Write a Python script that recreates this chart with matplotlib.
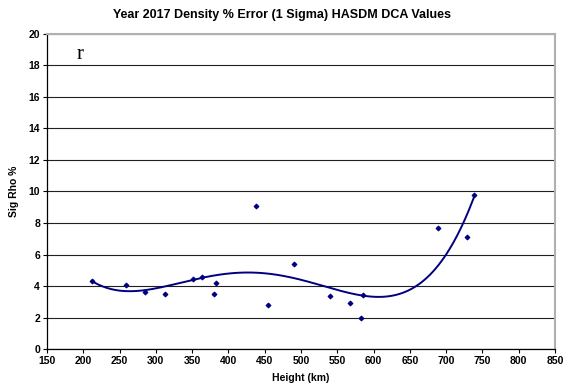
import numpy as np
import matplotlib
matplotlib.use("Agg")
import matplotlib.pyplot as plt

# Density error (1 sigma) against satellite height
height_km = [212, 259, 285, 312, 351, 364, 380, 383, 438, 454,
             491, 540, 568, 583, 586, 689, 729, 738]
sig_rho = [4.34, 4.04, 3.64, 3.49, 4.45, 4.60, 3.49, 4.19, 9.06, 2.79,
           5.38, 3.36, 2.94, 1.96, 3.45, 7.66, 7.11, 9.79]

x_ticks = list(range(150, 851, 50))
y_ticks = list(range(0, 21, 2))

plt.rcParams['font.family'] = ['Liberation Sans', 'DejaVu Sans']

fig = plt.figure(figsize=(5.64, 3.85), dpi=100)
ax = fig.add_axes([0.0833, 0.0935, 0.9007, 0.8182])

# polynomial trendline through the points
coef = np.polyfit(height_km, sig_rho, 4)
xs = np.linspace(min(height_km), max(height_km), 300)
ax.plot(xs, np.polyval(coef, xs), color='#000080', lw=1.4, zorder=3)

ax.scatter(height_km, sig_rho, marker='D', s=5, color='#000080', zorder=4)

ax.set_xlim(150, 850)
ax.set_ylim(0, 20)
ax.set_xticks(x_ticks)
ax.set_yticks(y_ticks)
ax.yaxis.grid(True, color='#202020', lw=0.8)
ax.set_axisbelow(True)

for side in ['top', 'right']:
    ax.spines[side].set_color('#b0b0b0')
    ax.spines[side].set_linewidth(1.5)
for side in ['left', 'bottom']:
    ax.spines[side].set_color('black')
    ax.spines[side].set_linewidth(0.9)

ax.tick_params(direction='out', length=3, width=0.8, labelsize=7.5, pad=2)
for lab in ax.get_xticklabels() + ax.get_yticklabels():
    lab.set_fontweight('bold')

ax.set_xlabel('Height (km)', fontsize=7.5, fontweight='bold', labelpad=5)
ax.set_ylabel('Sig Rho %', fontsize=7.5, fontweight='bold', labelpad=7)

fig.text(0.5, 0.96, 'Year 2017 Density % Error (1 Sigma) HASDM DCA Values',
         ha='center', va='center', fontsize=9, fontweight='bold')

ax.text(195, 18.7, 'r', family='Liberation Serif', fontsize=15,
        ha='center', va='center')

fig.savefig('out.png', dpi=100)
